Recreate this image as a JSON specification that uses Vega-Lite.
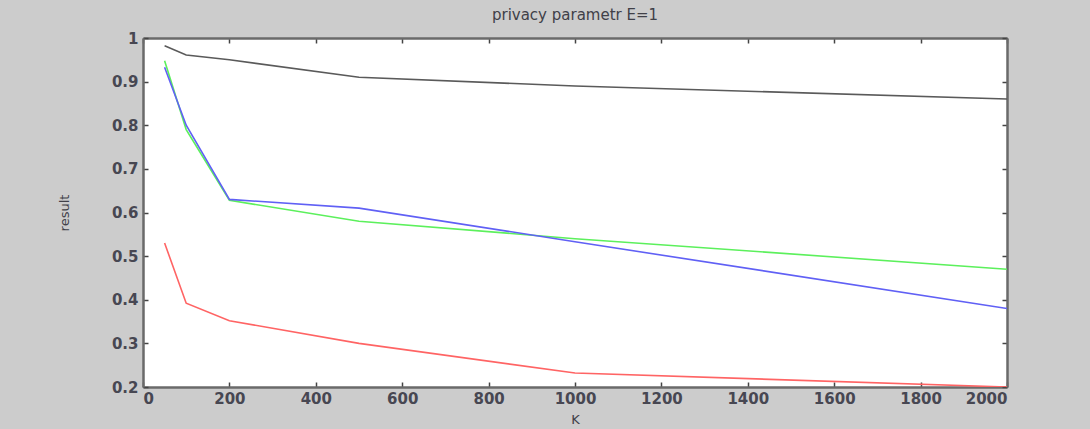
{
  "$schema": "https://vega.github.io/schema/vega-lite/v6.json",
  "autosize": {"type": "none"},
  "width": 864,
  "height": 349,
  "padding": {"left": 143, "top": 38, "right": 83, "bottom": 42},
  "background": "#cccccc",
  "title": {"text": "privacy parametr E=1", "font": "DejaVu Sans", "fontSize": 15, "fontWeight": "normal", "color": "#404048", "offset": 8},
  "config": {
    "view": {"fill": "white", "stroke": null},
    "axis": {
      "grid": false,
      "domainColor": "#6a6a6a",
      "domainWidth": 2.5,
      "tickColor": "#444",
      "tickSize": -5,
      "tickWidth": 1.5,
      "labelFont": "DejaVu Sans",
      "labelFontSize": 15,
      "labelFontWeight": "bold",
      "labelColor": "#474752",
      "titleFont": "DejaVu Sans",
      "titleFontSize": 13,
      "titleFontWeight": "normal",
      "titleColor": "#404048"
    }
  },
  "data": {"values": [
    {"K": 50, "result": 0.982, "series": "black"},
    {"K": 100, "result": 0.961, "series": "black"},
    {"K": 200, "result": 0.950, "series": "black"},
    {"K": 500, "result": 0.910, "series": "black"},
    {"K": 1000, "result": 0.890, "series": "black"},
    {"K": 2000, "result": 0.860, "series": "black"},
    {"K": 50, "result": 0.948, "series": "green"},
    {"K": 100, "result": 0.790, "series": "green"},
    {"K": 200, "result": 0.628, "series": "green"},
    {"K": 500, "result": 0.580, "series": "green"},
    {"K": 1000, "result": 0.540, "series": "green"},
    {"K": 2000, "result": 0.470, "series": "green"},
    {"K": 50, "result": 0.933, "series": "blue"},
    {"K": 100, "result": 0.800, "series": "blue"},
    {"K": 200, "result": 0.630, "series": "blue"},
    {"K": 500, "result": 0.610, "series": "blue"},
    {"K": 1000, "result": 0.533, "series": "blue"},
    {"K": 2000, "result": 0.380, "series": "blue"},
    {"K": 50, "result": 0.530, "series": "red"},
    {"K": 100, "result": 0.392, "series": "red"},
    {"K": 200, "result": 0.352, "series": "red"},
    {"K": 500, "result": 0.300, "series": "red"},
    {"K": 1000, "result": 0.232, "series": "red"},
    {"K": 2000, "result": 0.200, "series": "red"}
  ]},
  "layer": [
    {
      "mark": {"type": "line", "strokeWidth": 1.6, "clip": true},
      "encoding": {
        "x": {"field": "K", "type": "quantitative", "scale": {"domain": [0, 2000], "nice": false},
              "axis": {"orient": "bottom", "values": [0,200,400,600,800,1000,1200,1400,1600,1800,2000], "format": "d", "labelPadding": 9, "title": "K", "titlePadding": 7}},
        "y": {"field": "result", "type": "quantitative", "scale": {"domain": [0.2, 1], "nice": false, "zero": false},
              "axis": {"orient": "left", "values": [0.2,0.3,0.4,0.5,0.6,0.7,0.8,0.9,1], "format": "~g", "labelPadding": 10, "title": "result", "titlePadding": 40}},
        "color": {"field": "series", "type": "nominal", "legend": null,
                  "scale": {"domain": ["black", "green", "blue", "red"], "range": ["#5a5a5a", "#5cf05c", "#6060f5", "#ff6464"]}}
      }
    },
    {
      "mark": {"type": "line", "opacity": 0},
      "encoding": {
        "x": {"field": "K", "type": "quantitative", "scale": {"domain": [0, 2000], "nice": false},
              "axis": {"orient": "top", "values": [0,200,400,600,800,1000,1200,1400,1600,1800,2000], "labels": false, "title": null}},
        "y": {"field": "result", "type": "quantitative", "scale": {"domain": [0.2, 1], "nice": false, "zero": false},
              "axis": {"orient": "right", "values": [0.2,0.3,0.4,0.5,0.6,0.7,0.8,0.9,1], "labels": false, "title": null}},
        "detail": {"field": "series", "type": "nominal"}
      }
    }
  ],
  "resolve": {"axis": {"x": "independent", "y": "independent"}}
}
